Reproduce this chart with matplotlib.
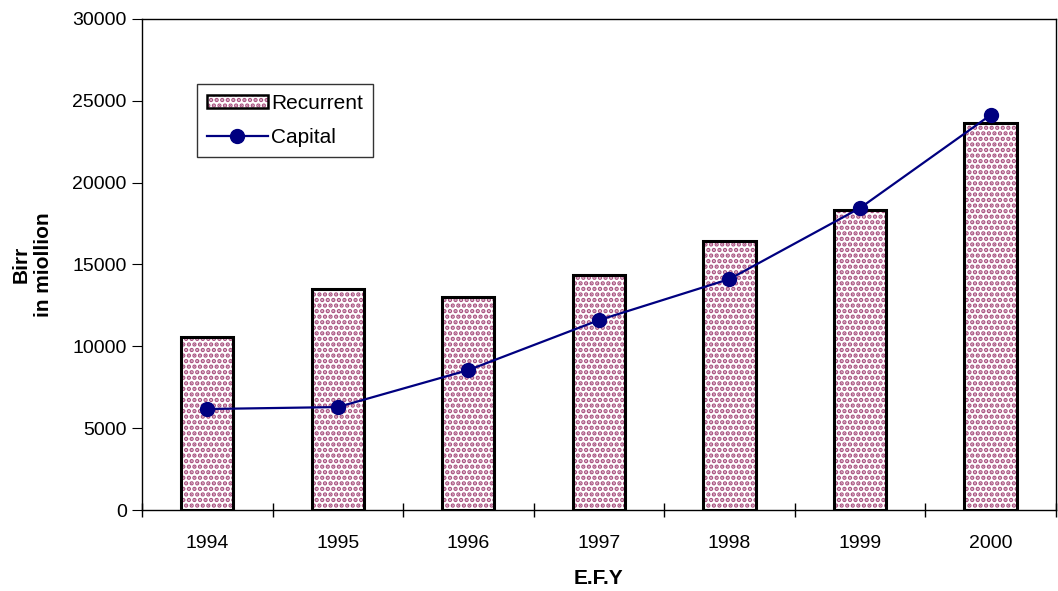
import matplotlib
matplotlib.use("Agg")
import matplotlib.pyplot as plt
from matplotlib.lines import Line2D
from matplotlib.patches import Patch

plt.rcParams["font.family"] = ["Liberation Sans", "DejaVu Sans"]
plt.rcParams["hatch.linewidth"] = 2.2

years = ["1994", "1995", "1996", "1997", "1998", "1999", "2000"]
recurrent = [10570, 13500, 13010, 14355, 16430, 18330, 23640]
capital = [6170, 6290, 8550, 11600, 14110, 18450, 24130]

hatch_col = "#a8507f"
line_col = "#000080"

fig = plt.figure(figsize=(10.58, 5.91), dpi=100)
ax = fig.add_axes([0.1342, 0.137, 0.8638, 0.831])

x = list(range(len(years)))
# hatch layer (pink dashes) and black outline drawn separately
ax.bar(x, recurrent, width=0.4, color="white", edgecolor=hatch_col,
       linewidth=0, hatch="...", zorder=2)
ax.bar(x, recurrent, width=0.4, fill=False, edgecolor="black",
       linewidth=2.2, zorder=2.5)
ax.plot(x, capital, color=line_col, linewidth=1.6, marker="o",
        markersize=10, zorder=3)

ax.set_xlim(-0.5, len(years) - 0.5)
ax.set_ylim(0, 30000)
ax.set_yticks(range(0, 30001, 5000))
ax.set_xticks(x)
ax.set_xticklabels(years)
ax.set_xticks([i - 0.5 for i in range(len(years) + 1)], minor=True)
ax.tick_params(axis="x", which="major", length=0, labelsize=14, pad=18)
ax.tick_params(axis="x", which="minor", length=10, direction="inout", width=1)
ax.tick_params(axis="y", length=7, direction="out", labelsize=14, pad=4)
for s in ax.spines.values():
    s.set_linewidth(1)

ax.set_xlabel("E.F.Y", fontsize=15, fontweight="bold", labelpad=12)
ax.set_ylabel("Birr\nin miollion", fontsize=15, fontweight="bold", labelpad=14)

handles = [
    (Patch(facecolor="white", edgecolor=hatch_col, hatch="...", linewidth=0),
     Patch(fill=False, edgecolor="black", linewidth=1.8)),
    Line2D([], [], color=line_col, linewidth=1.6, marker="o", markersize=10),
]
leg = ax.legend(handles, ["Recurrent", "Capital"], loc="upper left",
                bbox_to_anchor=(0.06, 0.868), fontsize=15, frameon=True,
                fancybox=False, edgecolor="black", handlelength=2.9,
                handleheight=0.6, borderpad=0.5, labelspacing=0.7,
                handletextpad=0.15, borderaxespad=0)
leg.get_frame().set_linewidth(1)

plt.savefig("out.png", dpi=100)
